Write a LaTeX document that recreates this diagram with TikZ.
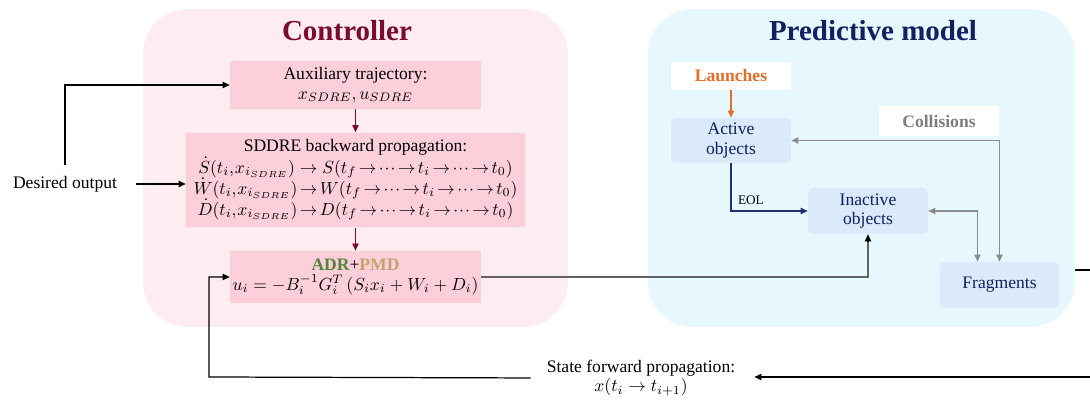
\documentclass[tikz,border=0pt]{standalone}
\usepackage{amsmath,amssymb}
\usepackage{fontspec}
\setmainfont{Liberation Serif}
\usepackage{xcolor}
\usepackage{tikz}
\usetikzlibrary{arrows.meta,positioning,calc}

\definecolor{ctrlbg}{RGB}{253,236,240}
\definecolor{ctrlbox}{RGB}{252,207,219}
\definecolor{ctrltitle}{RGB}{124,10,48}
\definecolor{predbg}{RGB}{230,247,253}
\definecolor{objbox}{RGB}{218,234,250}
\definecolor{navy}{RGB}{16,32,96}
\definecolor{eolblue}{RGB}{32,48,112}
\definecolor{launchorange}{RGB}{226,110,40}
\definecolor{adrgreen}{RGB}{84,134,58}
\definecolor{pmdtan}{RGB}{196,164,110}
\definecolor{wiregray}{RGB}{140,140,140}

\newcommand{\tightmath}{\thickmuskip=2.5mu\medmuskip=1.5mu\thinmuskip=1mu\lineskiplimit=-10pt}

\begin{document}
\begin{tikzpicture}[x=0.02cm,y=-0.02cm,font=\fontsize{10}{11}\selectfont,
  tip/.style={-{Triangle[length=4pt,width=3.6pt]}},
  ctrlnode/.style={fill=ctrlbox,align=center,inner sep=1pt},
  objnode/.style={fill=objbox,rounded corners=3pt,align=center,text=navy,
    minimum width=2.4cm,inner sep=1pt},
  tagnode/.style={fill=white,font=\fontsize{10}{11.5}\selectfont\bfseries,
    minimum width=2.4cm,inner sep=1pt},
  paneltitle/.style={font=\fontsize{16.5}{18}\selectfont\bfseries},
  ctrlwire/.style={tip,draw=ctrltitle,thin},
  blackwire/.style={tip,draw=black,line width=0.7pt},
  graywire/.style={draw=wiregray,line width=0.6pt,
    {Triangle[length=4pt,width=3.6pt]}-{Triangle[length=4pt,width=3.6pt]}}]
  \useasboundingbox (0,0) rectangle (1090,401);

  \node[fill=ctrlbg,rounded corners=0.9cm,minimum width=8.5cm,minimum height=6.36cm]
    (ctrlpanel) at (355.5,168) {};
  \node[fill=predbg,rounded corners=0.9cm,minimum width=8.54cm,minimum height=6.36cm]
    (predpanel) at (861.5,168) {};
  \node[paneltitle,text=ctrltitle] (ctrltitle) at (347,31) {Controller};
  \node[paneltitle,text=navy] (predtitle) at (873,31) {Predictive model};

  \node[ctrlnode,minimum width=5.02cm,minimum height=0.96cm] (aux) at (355.5,85)
    {Auxiliary trajectory:\\ $x_{SDRE},u_{SDRE}$};
  \node[ctrlnode,minimum width=6.78cm,minimum height=1.9cm,
    font=\fontsize{10}{12}\selectfont\tightmath] (sddre) at (355.5,180)
    {SDDRE backward propagation:\\
     $\dot S(t_i,x_{i_{SDRE}})\;\to\;S(t_f\to\cdots\to t_i\to\cdots\to t_0)$\\
     $\dot W(t_i,x_{i_{SDRE}})\to W(t_f\to\cdots\to t_i\to\cdots\to t_0)$\\
     $\dot D(t_i,x_{i_{SDRE}})\to D(t_f\to\cdots\to t_i\to\cdots\to t_0)$};
  \node[ctrlnode,minimum width=5.02cm,minimum height=1.04cm] (adr) at (355.5,277)
    {{\bfseries\color{adrgreen}ADR}+{\bfseries\color{pmdtan}PMD}\\
     $u_i=-B_i^{-1}G_i^T\left(S_ix_i+W_i+D_i\right)$};

  \node (desired) at (65,184) {Desired output};
  \node[align=center] (state) at (641,378)
    {State forward propagation:\\ $x(t_i\to t_{i+1})$};

  \node[tagnode,text=launchorange,minimum height=0.56cm] (launch) at (731,76) {Launches};
  \node[objnode,minimum height=0.9cm] (active) at (731,140.5) {Active\\ objects};
  \node[tagnode,text=wiregray!90!black,minimum height=0.6cm] (collide) at (939,121) {Collisions};
  \node[objnode,minimum height=0.92cm] (inactive) at (868,211) {Inactive\\ objects};
  \node[objnode,minimum height=0.92cm] (frag) at (999.5,285) {Fragments};

  \coordinate (loopL) at (209,377);
  \coordinate (outR) at (1090,270);
  \coordinate (inR) at (1090,377);

  \draw[blackwire,shorten <=0.26cm] (desired.east) -- (sddre.west |- desired);
  \draw[blackwire,shorten <=0.1cm] (desired.north) |- (aux.west);
  \draw[ctrlwire] (aux) -- (sddre);
  \draw[ctrlwire] (sddre) -- (adr);
  \draw[blackwire,shorten <=0.2cm] (state.west) -- (loopL) |- (adr.west);
  \draw[draw=wiregray!70!black,line width=0.6pt] (adr.east) -| ($(inactive.south)+(0,8)$);
  \draw[tip,black,line width=0.6pt] ($(inactive.south)+(0,8)$) -- (inactive.south);
  \draw[tip,draw=launchorange,line width=0.6pt] (launch) -- (active);
  \draw[tip,draw=eolblue,line width=0.6pt] (active.south) |-
    node[pos=0.63,above,font=\fontsize{7.5}{8}\selectfont,text=black] {EOL} (inactive.west);
  \draw[graywire] (active.east) -| (frag.north);
  \draw[graywire] (inactive.east) -| ([xshift=-0.44cm]frag.north);
  \draw[blackwire,-] (predpanel.east |- outR) -- (outR);
  \draw[blackwire,shorten >=0.26cm] (inR) -- (state.east |- inR);
\end{tikzpicture}
\end{document}
